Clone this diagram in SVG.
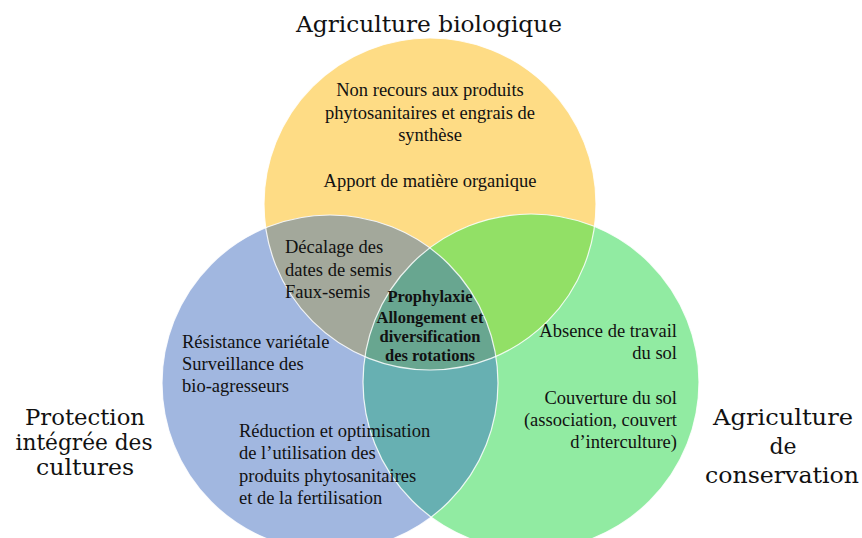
<svg xmlns="http://www.w3.org/2000/svg" width="862" height="538" viewBox="0 0 862 538">
<style>
.body{font-family:"Liberation Serif","Times New Roman",serif;font-size:18.5px;fill:#111}
.bold{font-family:"Liberation Serif","Times New Roman",serif;font-size:16.5px;font-weight:bold;fill:#111}
.label{font-family:"DejaVu Serif",serif;font-size:22px;fill:#111}
.edge{fill:none;stroke:#fff;stroke-width:1.2;stroke-opacity:0.85}
</style>
<defs>
<circle id="cy" cx="430" cy="204" r="166"/>
<circle id="cb" cx="330" cy="383" r="168"/>
<circle id="cg" cx="531" cy="382" r="168"/>
<clipPath id="clipY"><use href="#cy"/></clipPath>
<clipPath id="clipG"><use href="#cg"/></clipPath>
</defs>
<rect width="862" height="538" fill="#fff"/>
<g id="bio">
<use href="#cy" fill="#FEDC85"/>
</g>
<g id="pic">
<use href="#cb" fill="#A1B7E0"/>
</g>
<g id="conservation">
<use href="#cg" fill="#91EBA2"/>
</g>
<g id="overlaps">
<use href="#cb" fill="#A3A89B" clip-path="url(#clipY)"/>
<use href="#cg" fill="#92E066" clip-path="url(#clipY)"/>
<use href="#cb" fill="#67B0B2" clip-path="url(#clipG)"/>
<g clip-path="url(#clipG)"><use href="#cb" fill="#68A690" clip-path="url(#clipY)"/></g>
</g>
<g id="outlines">
<use href="#cy" class="edge"/>
<use href="#cb" class="edge"/>
<use href="#cg" class="edge"/>
</g>
<g id="label-bio">
<text class="label" x="429" y="32" text-anchor="middle" textLength="266" lengthAdjust="spacingAndGlyphs">Agriculture biologique</text>
</g>
<g id="label-pic">
<text class="label" x="85" y="425" text-anchor="middle" textLength="120" lengthAdjust="spacingAndGlyphs">Protection</text>
<text class="label" x="84" y="450" text-anchor="middle" textLength="137" lengthAdjust="spacingAndGlyphs">intégrée des</text>
<text class="label" x="85" y="475" text-anchor="middle" textLength="98" lengthAdjust="spacingAndGlyphs">cultures</text>
</g>
<g id="label-cons">
<text class="label" x="783" y="425" text-anchor="middle" textLength="140" lengthAdjust="spacingAndGlyphs">Agriculture</text>
<text class="label" x="783" y="454" text-anchor="middle">de</text>
<text class="label" x="782" y="483" text-anchor="middle" textLength="154" lengthAdjust="spacingAndGlyphs">conservation</text>
</g>
<g id="text-bio" class="body" text-anchor="middle">
<text x="430" y="96">Non recours aux produits</text>
<text x="430" y="119">phytosanitaires et engrais de</text>
<text x="430" y="141">synthèse</text>
<text x="430" y="187">Apport de matière organique</text>
</g>
<g id="text-bio-pic" class="body">
<text x="285" y="253">Décalage des</text>
<text x="285" y="276">dates de semis</text>
<text x="285" y="298">Faux-semis</text>
</g>
<g id="text-center" class="bold" text-anchor="middle">
<text x="430" y="302">Prophylaxie</text>
<text x="430" y="323">Allongement et</text>
<text x="430" y="342">diversification</text>
<text x="430" y="361">des rotations</text>
</g>
<g id="text-pic" class="body">
<text x="182" y="348">Résistance variétale</text>
<text x="182" y="370">Surveillance des</text>
<text x="182" y="392">bio-agresseurs</text>
<text x="239" y="437">Réduction et optimisation</text>
<text x="239" y="459">de l’utilisation des</text>
<text x="239" y="482">produits phytosanitaires</text>
<text x="239" y="504">et de la fertilisation</text>
</g>
<g id="text-cons" class="body" text-anchor="end">
<text x="677" y="337">Absence de travail</text>
<text x="677" y="359">du sol</text>
<text x="677" y="404">Couverture du sol</text>
<text x="677" y="426">(association, couvert</text>
<text x="677" y="448">d’interculture)</text>
</g>
</svg>
